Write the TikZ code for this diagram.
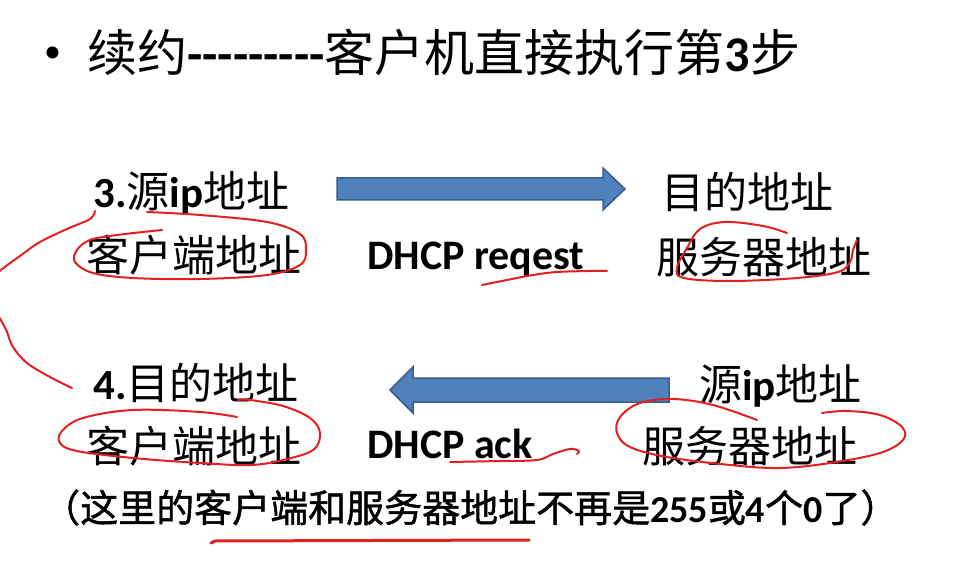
\documentclass[tikz,border=0pt]{standalone}
\usepackage{fontspec}
\setmainfont{Carlito}
\newfontfamily\cjk{Noto Sans CJK SC}
\newfontfamily\cjkheavy[FakeBold=1.2]{Noto Sans CJK SC}
\newcommand\zhtxt[1]{{\cjk #1}}
\newcommand\hyph{-\kern0pt}
\definecolor{arrowfill}{RGB}{79,129,189}
\definecolor{arrowedge}{RGB}{56,93,138}
\definecolor{penred}{RGB}{226,32,32}
\tikzset{
  titletext/.style={anchor=base west, inner sep=0pt, font=\fontsize{50}{50}\selectfont},
  bulletmark/.style={anchor=base west, inner sep=0pt, font=\fontsize{34}{34}\selectfont},
  lbl/.style={anchor=base west, inner sep=0pt, font=\fontsize{43}{43}\selectfont},
  proto/.style={anchor=base west, inner sep=0pt, font=\fontsize{42}{42}\selectfont\bfseries},
  notetext/.style={anchor=base west, inner sep=0pt, font=\fontsize{38}{38}\selectfont},
  blockarrow/.style={fill=arrowfill, draw=arrowedge, line width=1.5pt, line join=miter},
  pen/.style={draw=penred, line width=2pt, line cap=round, line join=round},
}
\begin{document}
\begin{tikzpicture}[x=1pt,y=-1pt]
\clip (0,0) rectangle (959,572);
\fill[white] (0,0) rectangle (959,572);

% heading
\node[bulletmark] (bullet) at (44,63) {•};
\node[titletext] (title) at (87,72)
  {\zhtxt{续约}\textbf{\hyph\hyph\hyph\hyph\hyph\hyph\hyph\hyph\hyph}\zhtxt{客户机直接执行第}\textbf{3}\zhtxt{步}};

% step 3: client -> server
\node[lbl] (src3)  at (93,208)  {\textbf{3.}\zhtxt{源}\textbf{ip}\zhtxt{地址}};
\node[lbl] (cli3)  at (86,272)  {\zhtxt{客户端地址}};
\node[proto] (req) at (367,270) {DHCP reqest};
\node[lbl] (dst3)  at (661,209) {\zhtxt{目的地址}};
\node[lbl] (srv3)  at (656,273) {\zhtxt{服务器地址}};

% step 4: server -> client
\node[lbl] (dst4)  at (93,399)  {\textbf{4.}\zhtxt{目的地址}};
\node[lbl] (cli4)  at (86,462)  {\zhtxt{客户端地址}};
\node[proto] (ack) at (367,458) {DHCP ack};
\node[lbl] (src4)  at (699,400) {\zhtxt{源}\textbf{ip}\zhtxt{地址}};
\node[lbl] (srv4)  at (642,462) {\zhtxt{服务器地址}};

% remark
\node[notetext] (note) at (42,522)
  {{\cjkheavy （这里的客户端和服务器地址不再是}\textbf{255}{\cjkheavy 或}\textbf{4}{\cjkheavy 个}\textbf{0}{\cjkheavy 了）}};

% block arrows
\draw[blockarrow] (337,178) -- (603,178) -- (603,168) -- (625,189)
  -- (603,210) -- (603,200) -- (337,200) -- cycle;
\draw[blockarrow] (669,378) -- (413,378) -- (413,367) -- (390,390)
  -- (413,413) -- (413,402) -- (669,402) -- cycle;

% hand-drawn marks
\draw[pen] plot[smooth, tension=0.6] coordinates
  {(95,211) (90,219) (67,229) (40,242) (20,256) (2,269) (-6,276)};
\draw[pen] plot[smooth, tension=0.6] coordinates
  {(-3,314) (2,322) (7,332) (13,347) (27,363) (50,377) (72,388)};
\draw[pen] plot[smooth, tension=0.6] coordinates
  {(147,212) (200,215) (267,222) (300,234) (306,250) (300,265) (267,275)
   (200,279) (133,278) (93,273) (75,262) (77,250) (90,240) (117,235) (162,230)};
\draw[pen] plot[smooth, tension=0.6] coordinates
  {(482,285) (507,280) (533,275) (557,272) (590,271) (607,271)};
\draw[pen] plot[smooth, tension=0.6] coordinates
  {(787,233) (763,226) (725,222) (700,229) (687,248) (677,268) (684,278)
   (730,281) (797,278) (838,272) (850,262) (853,250) (857,240)};
\draw[pen] plot[smooth, tension=0.6] coordinates
  {(237,417) (200,412) (133,410) (83,418) (62,431) (60,443) (77,451) (133,458)
   (200,463) (250,465) (283,460) (313,450) (320,433) (310,418) (283,406) (250,400) (238,400)};
\draw[pen] plot[smooth, tension=0.6] coordinates
  {(450,462) (500,461) (537,460) (553,454) (570,449) (579,451) (577,454)};
\draw[pen] plot[smooth, tension=0.6] coordinates
  {(757,420) (713,405) (673,399) (640,403) (620,417) (617,433) (630,447) (667,457)
   (730,465) (780,468) (830,463) (880,453) (903,440) (902,427) (880,415) (847,411) (822,413)};
\draw[pen, line width=3pt] (211,543) -- (215,541) -- (529,540);
\end{tikzpicture}
\end{document}
